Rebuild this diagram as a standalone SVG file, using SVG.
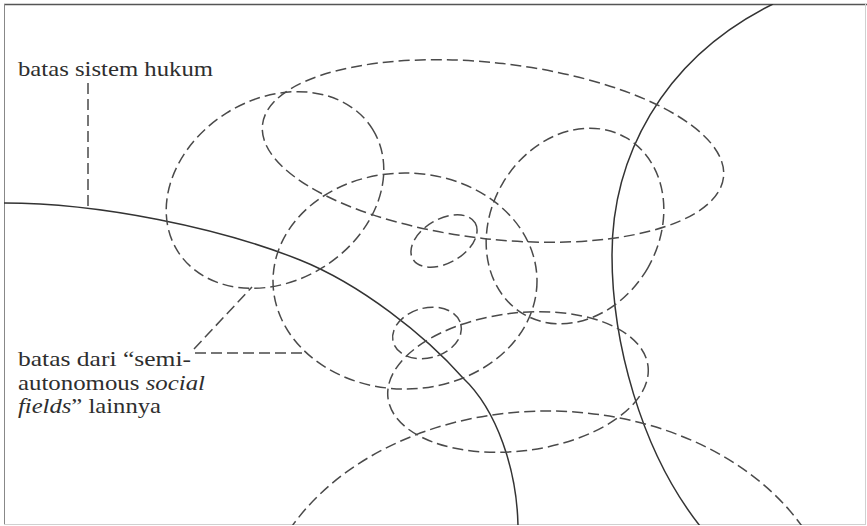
<svg xmlns="http://www.w3.org/2000/svg" width="867" height="526" viewBox="0 0 867 526">
<defs>
<clipPath id="frame"><rect x="4" y="4" width="862" height="521"/></clipPath>
<style>
.dash{fill:none;stroke:#4a4a4a;stroke-width:1.5;stroke-dasharray:11 5}
.solid{fill:none;stroke:#333;stroke-width:1.5}
text{font-family:'Liberation Serif','DejaVu Serif','Noto Serif',Tinos,serif;font-size:21px;fill:#2e2e2e}
.it{font-style:italic}
</style>
</defs>
<rect width="867" height="526" fill="#fff"/>
<g id="frame-border">
<line x1="4" y1="4.5" x2="867" y2="4.5" stroke="#555" stroke-width="1.5"/>
<line x1="4.5" y1="4" x2="4.5" y2="525" stroke="#888" stroke-width="1"/>
<line x1="865.5" y1="4" x2="865.5" y2="525" stroke="#d0d0d0" stroke-width="1"/>
<line x1="4" y1="524.5" x2="866" y2="524.5" stroke="#d0d0d0" stroke-width="1"/>
</g>
<g clip-path="url(#frame)">
<g id="legal-system-boundary">
<path class="solid" d="M4,203 C100,203 220,228 300,260 C360,284 425,335 463,378 C497,410 517,470 518,526"/>
</g>
<g id="right-boundary">
<path class="solid" d="M773,4 C660,60 612,160 612,255 C612,340 640,450 700,526"/>
</g>
<g id="field-1"><ellipse class="dash" cx="275" cy="190" rx="115" ry="91" transform="rotate(-32 275 190)"/></g>
<g id="field-2"><ellipse class="dash" cx="493" cy="151" rx="232" ry="88" transform="rotate(6.5 493 151)"/></g>
<g id="field-3"><ellipse class="dash" cx="405" cy="281" rx="132" ry="108"/></g>
<g id="field-4"><ellipse class="dash" cx="444" cy="241" rx="36" ry="22" transform="rotate(-30 444 241)"/></g>
<g id="field-5"><ellipse class="dash" cx="575" cy="226" rx="84" ry="102" transform="rotate(30 575 226)"/></g>
<g id="field-6"><ellipse class="dash" cx="427" cy="333" rx="35" ry="25" transform="rotate(-15 427 333)"/></g>
<g id="field-7"><ellipse class="dash" cx="518" cy="382" rx="131" ry="69" transform="rotate(-7 518 382)"/></g>
<g id="field-8"><ellipse class="dash" cx="547" cy="631" rx="290" ry="220"/></g>
</g>
<g id="label-legal">
<text x="18" y="76" textLength="195" lengthAdjust="spacingAndGlyphs">batas sistem hukum</text>
</g>
<g id="label-fields">
<text x="18" y="366" textLength="173" lengthAdjust="spacingAndGlyphs">batas dari “semi-</text>
<text x="18" y="389.5" textLength="187" lengthAdjust="spacingAndGlyphs">autonomous <tspan class="it">social</tspan></text>
<text x="18" y="413" textLength="143" lengthAdjust="spacingAndGlyphs"><tspan class="it">fields</tspan>” lainnya</text>
</g>
<g id="connectors">
<line class="dash" x1="88" y1="83" x2="88" y2="206"/>
<line class="dash" x1="194" y1="349" x2="252" y2="287"/>
<line class="dash" x1="195" y1="353" x2="307" y2="353"/>
</g>
</svg>
